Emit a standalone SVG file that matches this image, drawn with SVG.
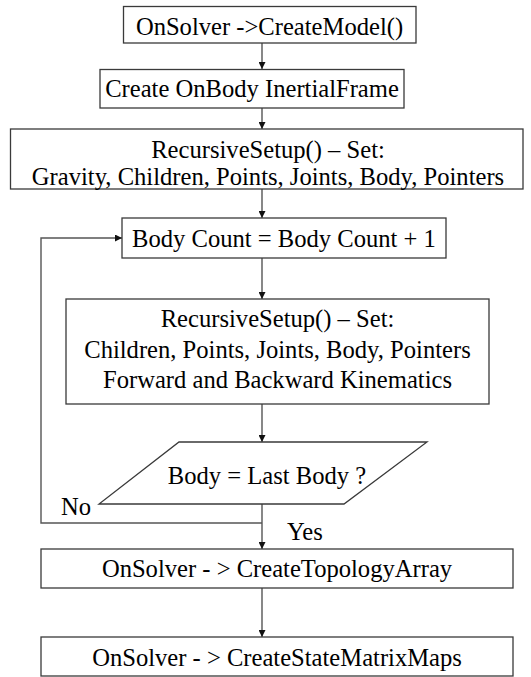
<svg xmlns="http://www.w3.org/2000/svg" width="531" height="677" viewBox="0 0 531 677">
  <style>
    .box { fill: #ffffff; stroke: #3a3a3a; stroke-width: 1.3; }
    .lbl { font-family: 'Liberation Serif', 'Times New Roman', serif; font-size: 24.6px; fill: #000000; }
    .mid { text-anchor: middle; }
    .wire { fill: none; stroke: #555555; stroke-width: 1.4; }
  </style>
  <defs>
    <marker id="arrow" viewBox="0 0 10 10" refX="10" refY="5" markerWidth="7" markerHeight="7" markerUnits="userSpaceOnUse" orient="auto">
      <path d="M0,0 L10,5 L0,10 z" fill="#111111"/>
    </marker>
  </defs>
  <rect width="531" height="677" fill="#ffffff"/>

  <!-- connectors: main flow down x=262, plus the "No" loop back to the counter -->
  <g id="connectors">
    <line class="wire" x1="262" y1="43" x2="262" y2="69" marker-end="url(#arrow)"/>
    <line class="wire" x1="262" y1="108" x2="262" y2="129" marker-end="url(#arrow)"/>
    <line class="wire" x1="262" y1="189" x2="262" y2="218" marker-end="url(#arrow)"/>
    <line class="wire" x1="262" y1="258" x2="262" y2="299" marker-end="url(#arrow)"/>
    <line class="wire" x1="262" y1="404" x2="262" y2="442" marker-end="url(#arrow)"/>
    <line class="wire" x1="262" y1="504" x2="262" y2="549" marker-end="url(#arrow)"/>
    <polyline class="wire" points="262,523 41,523 41,238 122,238" marker-end="url(#arrow)"/>
    <line class="wire" x1="262" y1="588" x2="262" y2="637" marker-end="url(#arrow)"/>
  </g>

  <g id="create-model">
    <rect class="box" x="123.5" y="6.5" width="292.5" height="36.5"/>
    <text class="lbl mid" x="269.5" y="35">OnSolver -&gt;CreateModel()</text>
  </g>

  <g id="inertial-frame">
    <rect class="box" x="100" y="69.5" width="304" height="38.5"/>
    <text class="lbl mid" x="252" y="97">Create OnBody InertialFrame</text>
  </g>

  <g id="setup-all">
    <rect class="box" x="10.5" y="129" width="512.5" height="60"/>
    <text class="lbl mid" x="268" y="158">RecursiveSetup() – Set:</text>
    <text class="lbl mid" x="268" y="185">Gravity, Children, Points, Joints, Body, Pointers</text>
  </g>

  <g id="body-count">
    <rect class="box" x="122" y="218" width="324" height="40"/>
    <text class="lbl mid" x="284" y="247">Body Count = Body Count + 1</text>
  </g>

  <g id="setup-body">
    <rect class="box" x="66" y="299" width="423" height="105"/>
    <text class="lbl mid" x="277.5" y="327">RecursiveSetup() – Set:</text>
    <text class="lbl mid" x="277.5" y="358">Children, Points, Joints, Body, Pointers</text>
    <text class="lbl mid" x="277.5" y="388">Forward and Backward Kinematics</text>
  </g>

  <g id="last-body">
    <polygon class="box" points="179,442 427,442 344,504 99,504"/>
    <text class="lbl mid" x="267" y="484">Body = Last Body ?</text>
  </g>

  <g id="branch-labels">
    <text class="lbl" x="61" y="515">No</text>
    <text class="lbl" x="287" y="540">Yes</text>
  </g>

  <g id="topology-array">
    <rect class="box" x="41" y="549" width="472" height="39"/>
    <text class="lbl mid" x="277" y="577">OnSolver - &gt; CreateTopologyArray</text>
  </g>

  <g id="state-matrix">
    <rect class="box" x="41" y="637" width="472" height="39"/>
    <text class="lbl mid" x="277" y="666">OnSolver - &gt; CreateStateMatrixMaps</text>
  </g>
</svg>
